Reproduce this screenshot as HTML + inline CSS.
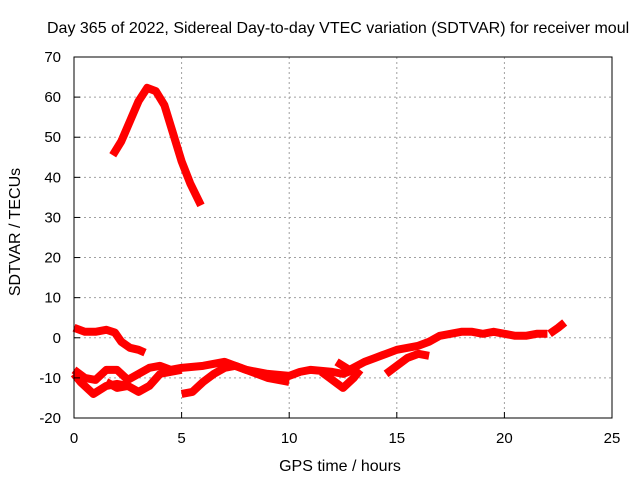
<!DOCTYPE html>
<html><head><meta charset="utf-8"><style>
body{margin:0;background:#fff}
svg{display:block;font-family:"Liberation Sans",sans-serif;font-size:14px}
</style></head><body>
<svg id="chart" width="640" height="480">
<text x="47" y="33" font-size="16">Day 365 of 2022, Sidereal Day-to-day VTEC variation (SDTVAR) for receiver moul</text>
<g id="grid"></g>
<g id="series"></g>
<rect x="74" y="57" width="538" height="361" fill="none" stroke="#000"/>
<g id="ticks"></g>
<text x="340" y="471" font-size="16" text-anchor="middle">GPS time / hours</text>
<text transform="translate(20,232) rotate(-90)" font-size="16" text-anchor="middle">SDTVAR / TECUs</text>
</svg>
<script>
const xTicks=[0,5,10,15,20,25];
const yTicks=[-20,-10,0,10,20,30,40,50,60,70];
const sAx=[1.8,2.2,2.6,3.0,3.4,3.8,4.2,4.6,5.0,5.4,5.9];
const sAy=[45.5,49,54,59,62.3,61.5,58,51,44,38.5,33];
const sBx=[0,0.5,1,1.5,1.9,2.2,2.6,3.0,3.3];
const sBy=[2.5,1.5,1.5,2,1.3,-1,-2.5,-3,-3.7];
const sCx=[0,0.5,1,1.5,2,2.5,3,3.5,4,4.5,5,6,7,8,9,10,10.5,11,12,12.5,13];
const sCy=[-8,-10,-10.5,-8,-8,-10.5,-9,-7.5,-7,-8,-7.5,-7,-6,-8,-9,-9.5,-8.5,-8,-8.5,-9,-8];
const sDx=[0,0.3,0.6,0.9,1.5,2,2.5];
const sDy=[-9,-11,-12.5,-14,-12,-11.5,-12];
const sEx=[1.5,2,2.5,3,3.5,4,4.5,5];
const sEy=[-11,-12.5,-12,-13.5,-12,-9,-8.5,-8];
const sFx=[5,5.5,6,6.5,7,7.5,8,9,10];
const sFy=[-14,-13.5,-11,-9,-7.5,-7,-8,-10,-11];
const sGx=[11.5,12,12.5,13,13.3];
const sGy=[-8.5,-10.5,-12.5,-10,-8];
const sHx=[12.2,12.8,13.5,14,14.5,15,15.5,16,16.5,17,17.5,18,18.5,19,19.5,20,20.5,21,21.5,22];
const sHy=[-6,-8,-6,-5,-4,-3,-2.5,-2,-1,0.5,1,1.5,1.5,1,1.5,1,0.5,0.5,1,1];
const sIx=[14.5,15,15.5,16,16.5];
const sIy=[-9,-7,-5,-4,-4.5];
const sJx=[22.1,22.5,22.8];
const sJy=[1,2.5,3.8];
const X=v=>74+v*538/25, Y=v=>418-(v+20)*361/90;
const NS="http://www.w3.org/2000/svg";
const grid=document.getElementById('grid'),ticks=document.getElementById('ticks'),ser=document.getElementById('series');
function mk(tag,attrs,p){const e=document.createElementNS(NS,tag);for(const k in attrs)e.setAttribute(k,attrs[k]);p.appendChild(e);return e;}
xTicks.forEach(t=>{
 if(t>0&&t<25){const l=mk('line',{x1:X(t),x2:X(t),y1:57,y2:418,stroke:'#a0a0a0','stroke-dasharray':'2,3'},grid);
 
 }
 mk('line',{x1:X(t),x2:X(t),y1:418,y2:412,stroke:'#000'},ticks);
 const tx=mk('text',{x:X(t),y:443,'text-anchor':'middle','font-size':15},ticks);tx.textContent=t;
 
 
});
yTicks.forEach(t=>{
 if(t>-20&&t<70){const l=mk('line',{x1:74,x2:612,y1:Y(t),y2:Y(t),stroke:'#a0a0a0','stroke-dasharray':'2,3'},grid);
 
 }
 mk('line',{x1:74,x2:80,y1:Y(t),y2:Y(t),stroke:'#000'},ticks);
 const tx=mk('text',{x:61,y:Y(t)+5,'text-anchor':'end','font-size':15},ticks);tx.textContent=t;
 
 
});
[[sAx,sAy],[sBx,sBy],[sCx,sCy],[sDx,sDy],[sEx,sEy],[sFx,sFy],[sGx,sGy],[sHx,sHy],[sIx,sIy],[sJx,sJy]].forEach(([xs,ys])=>{
 const pts=xs.map((x,i)=>X(x)+','+Y(ys[i])).join(' ');
 const p=mk('polyline',{points:pts,fill:'none',stroke:'#ff0000','stroke-width':8,'stroke-linejoin':'round','stroke-linecap':'butt'},ser);
 
 
});
</script>
</body></html>
